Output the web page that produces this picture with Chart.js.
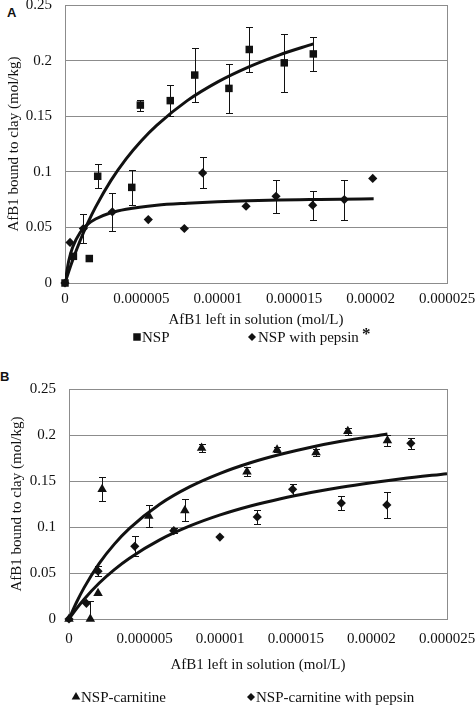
<!DOCTYPE html>
<html>
<head>
<meta charset="utf-8">
<script src="https://cdn.jsdelivr.net/npm/chart.js@4.4.1/dist/chart.umd.min.js"></script>
<style>
  html, body { margin: 0; padding: 0; background: #fff; }
  body { width: 475px; height: 706px; position: relative; overflow: hidden; }
  .box { position: absolute; left: 0; width: 475px; }
  #boxA { top: 0; height: 350px; }
  #boxB { top: 350px; height: 356px; }
  .panel { position: absolute; font: bold 13px "Liberation Sans", Arial, sans-serif; color: #111; }
</style>
</head>
<body>
<div class="panel" style="left:7px;top:5px">A</div>
<div class="panel" style="left:0px;top:369px">B</div>
<div class="box" id="boxA"><canvas id="chartA"></canvas></div>
<div class="box" id="boxB"><canvas id="chartB"></canvas></div>
<script>
// shared axis labels
const xTickLabels = ["0", "0.000005", "0.00001", "0.000015", "0.00002", "0.000025"];
const yTickLabels = ["0", "0.05", "0.1", "0.15", "0.2", "0.25"];

// Panel A - NSP (squares)
const nspX   = [0, 0.55e-6, 1.59e-6, 2.14e-6, 4.37e-6, 4.93e-6, 6.89e-6, 8.49e-6, 10.73e-6, 12.06e-6, 14.35e-6, 16.25e-6];
const nspY   = [0, 0.024, 0.022, 0.096, 0.086, 0.160, 0.164, 0.187, 0.175, 0.210, 0.198, 0.206];
const nspErr = [0, 0, 0, 0.011, 0.016, 0.005, 0.014, 0.024, 0.022, 0.020, 0.026, 0.015];
// Panel A - NSP with pepsin (diamonds)
const pepX   = [0, 0.33e-6, 1.2e-6, 3.1e-6, 5.45e-6, 7.81e-6, 9.01e-6, 11.85e-6, 13.81e-6, 16.21e-6, 18.28e-6, 20.14e-6];
const pepY   = [0, 0.0365, 0.049, 0.064, 0.057, 0.049, 0.099, 0.069, 0.078, 0.070, 0.075, 0.094];
const pepErr = [0, 0, 0.013, 0.017, 0, 0, 0.014, 0, 0.015, 0.013, 0.018, 0];
// Panel A - trend curves
const nspFitX = [0, 0.25e-6, 0.5e-6, 1e-6, 1.5e-6, 2e-6, 3e-6, 4e-6, 5e-6, 6e-6, 8e-6, 10e-6, 12e-6, 14e-6, 16.25e-6];
const nspFitY = [0, 0.0106, 0.0205, 0.0384, 0.0542, 0.0682, 0.0921, 0.1117, 0.128, 0.1418, 0.164, 0.1809, 0.1942, 0.205, 0.215];
const pepFitX = [0, 0.25e-6, 0.5e-6, 1e-6, 1.5e-6, 2e-6, 3e-6, 4e-6, 6e-6, 8e-6, 10e-6, 12e-6, 14e-6, 16e-6, 18e-6, 20.2e-6];
const pepFitY = [0, 0.0202, 0.0321, 0.0456, 0.053, 0.0576, 0.0632, 0.0664, 0.07, 0.0718, 0.0731, 0.074, 0.0746, 0.075, 0.0754, 0.0757];

// Panel B - NSP-carnitine (triangles)
const carX   = [0, 1.41e-6, 1.92e-6, 2.19e-6, 5.28e-6, 7.66e-6, 8.77e-6, 11.77e-6, 13.76e-6, 16.34e-6, 18.44e-6, 21.06e-6];
const carY   = [0, 0, 0.028, 0.141, 0.112, 0.118, 0.186, 0.160, 0.184, 0.181, 0.204, 0.194];
const carErr = [0, 0.02, 0, 0.013, 0.012, 0.012, 0.004, 0.005, 0.003, 0.004, 0.004, 0.006];
// Panel B - NSP-carnitine with pepsin (diamonds)
const cpX   = [0, 1.15e-6, 1.92e-6, 4.35e-6, 6.93e-6, 9.98e-6, 12.45e-6, 14.79e-6, 18.01e-6, 21.02e-6, 22.61e-6];
const cpY   = [0, 0.017, 0.052, 0.079, 0.096, 0.089, 0.111, 0.141, 0.126, 0.124, 0.191];
const cpErr = [0, 0, 0.0055, 0.011, 0.003, 0, 0.008, 0.006, 0.008, 0.014, 0.006];
// Panel B - trend curves
const carFitX = [0, 0.5e-6, 1e-6, 2e-6, 3e-6, 4e-6, 6e-6, 8e-6, 10e-6, 12e-6, 14e-6, 16e-6, 18e-6, 21.06e-6];
const carFitY = [0, 0.0182, 0.0341, 0.0605, 0.0814, 0.0985, 0.1247, 0.1438, 0.1583, 0.1698, 0.179, 0.1867, 0.1931, 0.2011];
const cpFitX = [0, 0.5e-6, 1e-6, 2e-6, 3e-6, 4e-6, 6e-6, 8e-6, 10e-6, 12e-6, 14e-6, 16e-6, 18e-6, 20e-6, 22e-6, 25e-6];
const cpFitY = [0, 0.0113, 0.0215, 0.0391, 0.0537, 0.0661, 0.086, 0.1011, 0.1131, 0.1228, 0.1308, 0.1375, 0.1433, 0.1482, 0.1525, 0.158];

const SERIF = '"Liberation Serif", "Times New Roman", serif';
const INK = "#111";
const GRID = "#8c8c8c";

function pts(xs, ys) {
    return xs.map((x, i) => ({ x: x, y: ys[i] }));
}

// frame round the plot area
const frame = {
    id: "frame",
    beforeDatasetsDraw(chart) {
        const { ctx, chartArea: a } = chart;
        ctx.save();
        ctx.strokeStyle = GRID;
        ctx.lineWidth = 1;
        ctx.strokeRect(Math.round(a.left) + 0.5, Math.round(a.top) + 0.5, Math.round(a.width), Math.round(a.height));
        ctx.restore();
    }
};

// vertical error bars with caps
const errorBars = {
    id: "errorBars",
    afterDatasetsDraw(chart, args, opts) {
        const { ctx, chartArea: a } = chart;
        const xs = chart.scales.x, ys = chart.scales.y;
        ctx.save();
        ctx.beginPath();
        ctx.rect(a.left - 10, a.top - 10, a.width + 20, a.height + 10);
        ctx.clip();
        ctx.strokeStyle = INK;
        ctx.lineWidth = 1;
        (opts.sets || []).forEach(s => {
            s.xs.forEach((xv, i) => {
                const e = s.err[i];
                if (!e) return;
                const px = Math.round(xs.getPixelForValue(xv)) + 0.5;
                const top = Math.round(ys.getPixelForValue(s.ys[i] + e)) + 0.5;
                const bot = Math.round(ys.getPixelForValue(s.ys[i] - e)) + 0.5;
                ctx.beginPath();
                ctx.moveTo(px, top); ctx.lineTo(px, bot);
                ctx.moveTo(px - 3.5, top); ctx.lineTo(px + 3.5, top);
                ctx.moveTo(px - 3.5, bot); ctx.lineTo(px + 3.5, bot);
                ctx.stroke();
            });
        });
        ctx.restore();
    }
};

// legend drawn under the axis title
const markerLegend = {
    id: "markerLegend",
    afterDraw(chart, args, opts) {
        const ctx = chart.ctx;
        ctx.save();
        ctx.fillStyle = INK;
        ctx.strokeStyle = INK;
        ctx.font = "15px " + SERIF;
        ctx.textBaseline = "middle";
        ctx.textAlign = "left";
        (opts.items || []).forEach(it => {
            Chart.helpers.drawPoint(ctx, { pointStyle: it.style, radius: it.r, rotation: 0, borderWidth: 0 }, it.mx, opts.y);
            ctx.fillText(it.label, it.tx, opts.y + 1);
            if (it.sup) {
                ctx.font = "bold 17px " + SERIF;
                ctx.fillText(it.sup, it.supX, opts.y - 2);
                ctx.font = "15px " + SERIF;
            }
        });
        ctx.restore();
    }
};

function scatterSet(label, xs, ys, style, r) {
    return {
        label: label,
        data: pts(xs, ys),
        pointStyle: style,
        pointRadius: r,
        pointHoverRadius: r,
        backgroundColor: INK,
        borderColor: INK,
        borderWidth: 0,
        showLine: false,
        clip: false
    };
}

function curveSet(xs, ys) {
    return {
        label: "fit",
        data: pts(xs, ys),
        showLine: true,
        borderColor: INK,
        borderWidth: 3,
        pointRadius: 0,
        cubicInterpolationMode: "monotone",
        fill: false
    };
}

function makeChart(id, g, datasets, errSets, legendItems) {
    const ctx = document.getElementById(id).getContext("2d");
    return new Chart(ctx, {
        type: "scatter",
        data: { datasets: datasets },
        plugins: [frame, errorBars, markerLegend],
        options: {
            responsive: true,
            maintainAspectRatio: false,
            animation: false,
            events: [],
            layout: { autoPadding: false, padding: { top: g.top, right: 28, left: 0, bottom: 0 } },
            plugins: {
                legend: { display: false },
                tooltip: { enabled: false },
                errorBars: { sets: errSets },
                markerLegend: { y: g.legendY, items: legendItems }
            },
            scales: {
                x: {
                    type: "linear",
                    min: 0,
                    max: 25e-6,
                    afterBuildTicks: s => { s.ticks = xTickLabels.map((t, i) => ({ value: i * 5e-6 })); },
                    afterFit: s => { s.height = g.xHeight; s.paddingLeft = 0; s.paddingRight = 0; },
                    grid: { display: false, drawTicks: false },
                    border: { display: false },
                    ticks: {
                        autoSkip: false,
                        maxRotation: 0,
                        padding: g.xPad,
                        color: INK,
                        font: { family: SERIF, size: 15 },
                        callback: (v, i) => xTickLabels[i]
                    },
                    title: {
                        display: true,
                        text: "AfB1 left in solution (mol/L)",
                        color: INK,
                        font: { family: SERIF, size: 15 },
                        padding: { top: 0, bottom: g.xTitlePad }
                    }
                },
                y: {
                    type: "linear",
                    min: 0,
                    max: 0.25,
                    afterBuildTicks: s => { s.ticks = yTickLabels.map((t, i) => ({ value: i * 0.05 })); },
                    afterFit: s => { s.width = g.yWidth; s.paddingTop = 0; s.paddingBottom = 0; },
                    grid: { color: GRID, lineWidth: 1, drawTicks: false },
                    border: { display: false },
                    ticks: {
                        padding: 13,
                        color: INK,
                        font: { family: SERIF, size: 15 },
                        callback: (v, i) => yTickLabels[i]
                    },
                    title: {
                        display: true,
                        text: "AfB1 bound to clay (mol/kg)",
                        color: INK,
                        font: { family: SERIF, size: 15 },
                        padding: { top: g.yTitlePad, bottom: 0 }
                    }
                }
            }
        }
    });
}

makeChart("chartA",
    { top: 5, yWidth: 65, xHeight: 67, xPad: 7, xTitlePad: 21, yTitlePad: 5, legendY: 337 },
    [
        curveSet(nspFitX, nspFitY),
        curveSet(pepFitX, pepFitY),
        scatterSet("NSP", nspX, nspY, "rect", 5.3),
        scatterSet("NSP with pepsin", pepX, pepY, "rectRot", 4.6)
    ],
    [
        { xs: nspX, ys: nspY, err: nspErr },
        { xs: pepX, ys: pepY, err: pepErr }
    ],
    [
        { style: "rect", r: 5.3, mx: 137, tx: 142, label: "NSP" },
        { style: "rectRot", r: 4, mx: 252, tx: 258, label: "NSP with pepsin", sup: "*", supX: 362 }
    ]
);

makeChart("chartB",
    { top: 39, yWidth: 69, xHeight: 87, xPad: 11, xTitlePad: 32, yTitlePad: 8, legendY: 347 },
    [
        curveSet(carFitX, carFitY),
        curveSet(cpFitX, cpFitY),
        scatterSet("NSP-carnitine", carX, carY, "triangle", 5.5),
        scatterSet("NSP-carnitine with pepsin", cpX, cpY, "rectRot", 4.6)
    ],
    [
        { xs: carX, ys: carY, err: carErr },
        { xs: cpX, ys: cpY, err: cpErr }
    ],
    [
        { style: "triangle", r: 5, mx: 76, tx: 81, label: "NSP-carnitine" },
        { style: "rectRot", r: 4, mx: 251, tx: 256, label: "NSP-carnitine with pepsin" }
    ]
);
</script>
</body>
</html>
